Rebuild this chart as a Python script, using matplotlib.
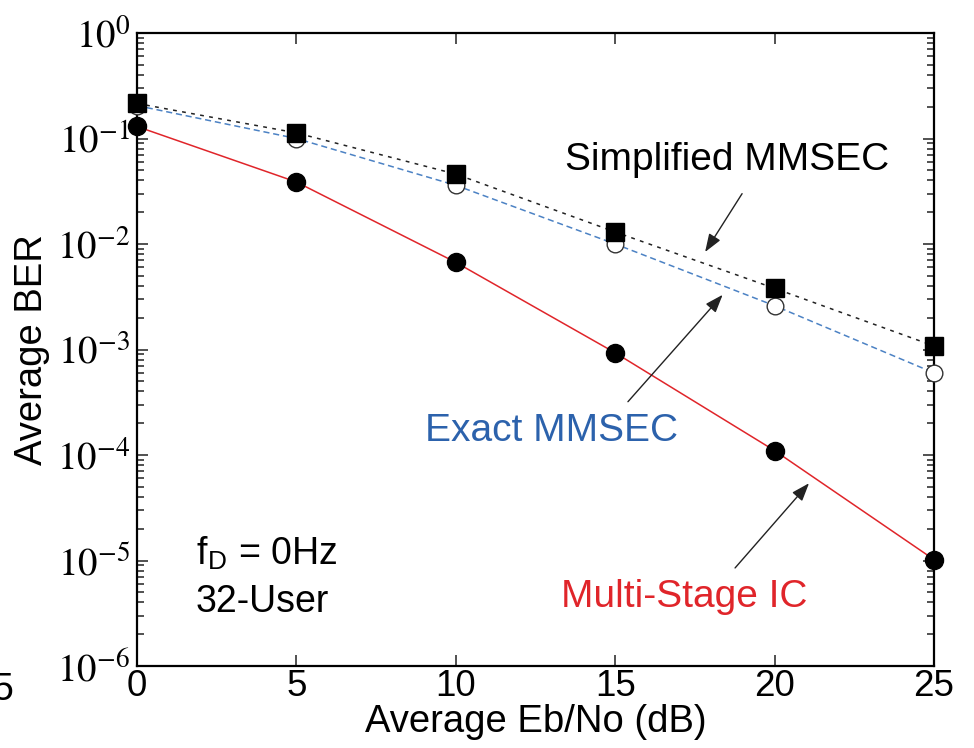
from matplotlib import pyplot as plt
from matplotlib.ticker import LogLocator, NullFormatter, FixedLocator
import numpy as np

plt.rcParams['font.family'] = ['Liberation Sans', 'DejaVu Sans']
plt.rcParams['mathtext.fontset'] = 'stix'

ebno = [0, 5, 10, 15, 20, 25]
ber_simplified = [0.215, 0.113, 0.046, 0.0130, 0.0038, 0.00108]
ber_exact = [0.205, 0.100, 0.036, 0.0100, 0.0026, 0.00060]
ber_multistage = [0.130, 0.0387, 0.0067, 0.00093, 0.000110, 0.0000102]
xticks = [0, 5, 10, 15, 20, 25]
yticks = [1e-6, 1e-5, 1e-4, 1e-3, 1e-2, 1e-1, 1e0]
ytick_labels = [r'$10^{%d}$' % e for e in range(-6, 1)]

red = '#e0252a'
blue = '#2c62ac'

fig = plt.figure(figsize=(9.74, 7.48), dpi=100)
ax = fig.add_axes([137/974, 1-666/748, (934-137)/974, (666-33)/748])

ax.plot(ebno, ber_multistage, color=red, lw=1.1, zorder=2)
ax.plot(ebno, ber_exact, color='#4c82c4', lw=1.1, dashes=(4, 2.5), zorder=2)
ax.plot(ebno, ber_simplified, color='#222222', lw=1.1, dashes=(2.5, 3.5), zorder=2)

ax.plot(ebno, ber_exact, ls='none', marker='o', ms=12, mfc='white', mec='#333333', mew=1.0,
        clip_on=False, zorder=3)
ax.plot(ebno, ber_simplified, ls='none', marker='s', ms=13, color='black', clip_on=False, zorder=4)
ax.plot(ebno, ber_multistage, ls='none', marker='o', ms=13, color='black', clip_on=False, zorder=4)

ax.set_yscale('log')
ax.set_xlim(0, 25)
ax.set_ylim(1e-6, 1)
ax.set_xticks(xticks)
ax.yaxis.set_major_locator(FixedLocator(yticks))
ax.set_yticklabels(ytick_labels, fontsize=28)
ax.yaxis.set_minor_locator(LogLocator(base=10, subs=np.arange(2, 10), numticks=20))
ax.yaxis.set_minor_formatter(NullFormatter())
ax.tick_params(axis='x', labelsize=26.5, pad=2)
ax.tick_params(axis='y', pad=5)
ax.tick_params(which='both', direction='in', top=True, right=True, width=1.2, color='#333333')
ax.tick_params(which='major', length=8)
ax.tick_params(which='minor', length=5)
for s in ax.spines.values():
    s.set_linewidth(1.6)

ax.set_xlabel('Average Eb/No (dB)', fontsize=27.5, labelpad=0)
ax.set_ylabel('Average BER', fontsize=27.5, labelpad=5)

arrow = dict(arrowstyle='-|>,head_length=1.1,head_width=0.4', color='#222222', lw=1.0,
             shrinkA=0, shrinkB=0)
ax.text(18.5, 6.3e-2, 'Simplified MMSEC', fontsize=28, ha='center', va='center')
ax.annotate('', xy=(17.82, 8.4e-3), xytext=(18.98, 3.0e-2), arrowprops=arrow)
ax.text(13.0, 1.7e-4, 'Exact MMSEC', fontsize=28, ha='center', va='center', color=blue)
ax.annotate('', xy=(18.37, 3.3e-3), xytext=(15.4, 3.2e-4), arrowprops=arrow)
ax.text(17.15, 4.5e-6, 'Multi-Stage IC', fontsize=28, ha='center', va='center', color=red)
ax.annotate('', xy=(21.08, 5.4e-5), xytext=(18.76, 8.5e-6), arrowprops=arrow)

ax.text(1.85, 1.15e-5, r'f$_\mathregular{D}$ = 0Hz', fontsize=27, ha='left', va='center')
ax.text(1.85, 4.0e-6, '32-User', fontsize=27, ha='left', va='center')

# cropped neighbour label at the left edge
fig.text(-0.008, 1-690/748, '5', fontsize=27, ha='left', va='center')

fig.savefig('out.png', dpi=100)
